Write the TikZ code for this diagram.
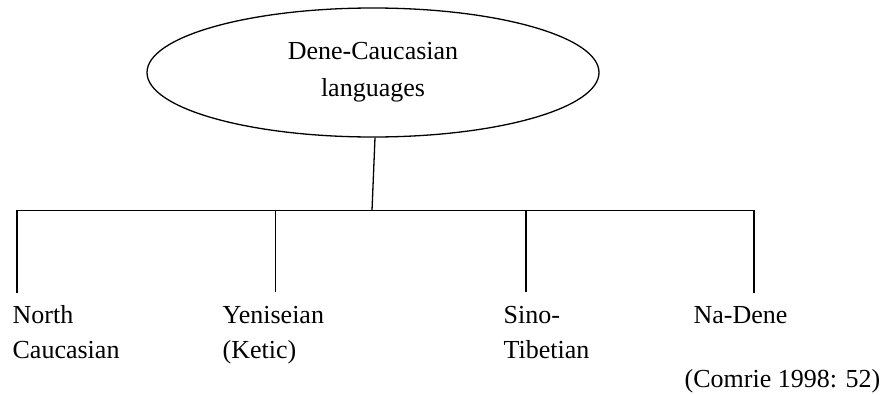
\documentclass[tikz,border=0pt]{standalone}
\usepackage{fontspec}
\setmainfont{Liberation Serif}
\usetikzlibrary{shapes.geometric}
\begin{document}
\begin{tikzpicture}[x=1pt,y=-1pt,
  line width=1.3pt,
  lbl/.style={anchor=base west,inner sep=0pt,align=left,font=\fontsize{26}{35}\selectfont},
  rootnode/.style={draw,ellipse,minimum width=452pt,minimum height=129pt,inner sep=0pt,align=center,font=\fontsize{26}{37}\selectfont}]
\useasboundingbox (0,0) rectangle (884,394);
\node[rootnode] (root) at (373,72.5) {Dene-Caucasian\\languages};
\coordinate (j) at (372,210.5);
\coordinate (b1) at (17,210.5);
\coordinate (b2) at (275.5,210.5);
\coordinate (b3) at (526,210.5);
\coordinate (b4) at (754,210.5);
\coordinate (e1) at (17,292);
\coordinate (e2) at (275.5,292);
\coordinate (e3) at (526,292);
\coordinate (e4) at (754,292);
\draw ([xshift=2pt]root.south) -- (j);
\draw[line cap=rect] (e1) -- (b1) -- (b4) -- (e4);
\draw (b2) -- (e2);
\draw (b3) -- (e3);
\node[lbl] (nc) at (12,358) {North\\Caucasian};
\node[lbl] (ye) at (222,358) {Yeniseian\\(Ketic)};
\node[lbl] (st) at (503,358) {Sino-\\Tibetian};
\node[lbl] (nd) at (693,323) {Na-Dene};
\node[lbl] (cm) at (684,387) {(Comrie 1998: 52)};
\end{tikzpicture}
\end{document}
